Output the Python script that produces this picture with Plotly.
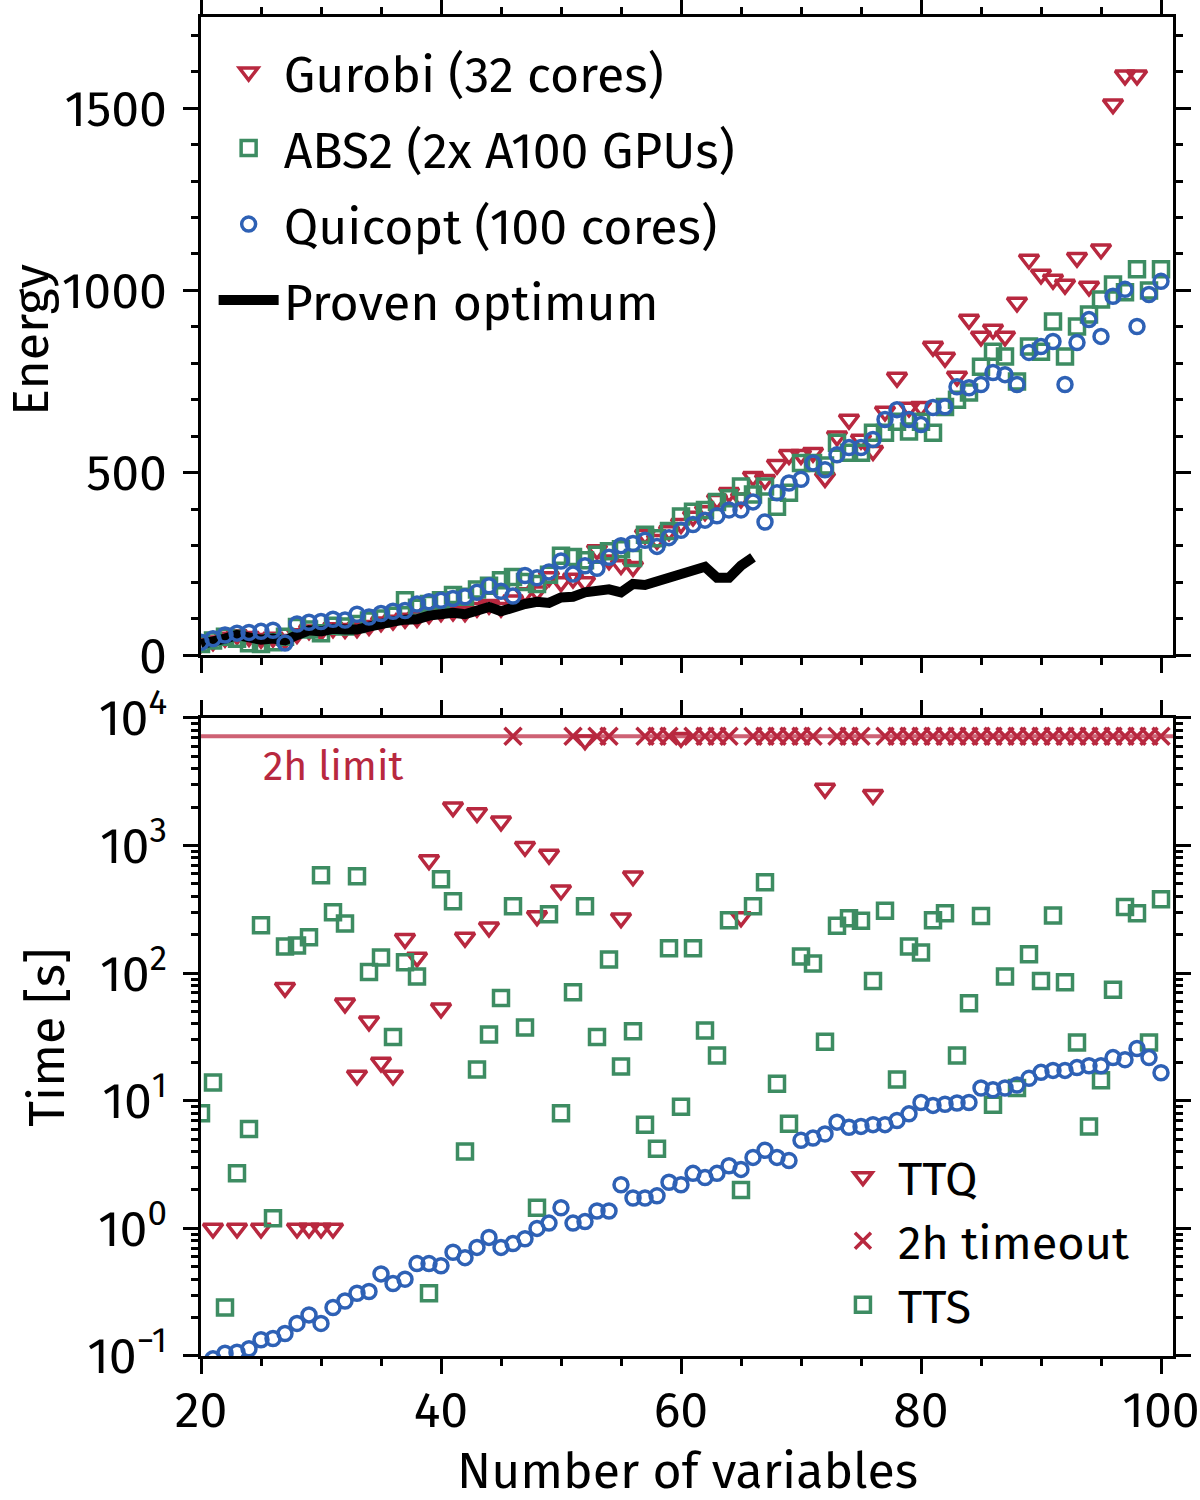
import math
import plotly.graph_objects as go

# ---------------- data ----------------
N = list(range(20, 101))

gurobi_E = [33, 38, 48, 55, 50, 45, 48, 42, 58, 68,
            66, 74, 72, 74, 80, 90, 95, 100, 102, 112,
            118, 120, 118, 130, 138, 130, 150, 170, 175, 214,
            200, 210, 200, 288, 260, 247, 242, 330, 316, 340,
            360, 380, 395, 426, 445, 430, 489, 481, 522, 549,
            549, 555, 486, 600, 646, 591, 560, 668, 761, 679,
            681, 846, 816, 764, 920, 874, 893, 874, 967, 1085,
            1044, 1030, 1016, 1090, 1011, 1113, 1511, 1590, 1590, None,
            None]

abs2_E = [30, 40, 50, 45, 32, 30, 35, 50, 77, 70,
          60, 80, 78, 85, 95, 100, 108, 150, 130, 140,
          150, 165, 160, 180, 190, 205, 214, 200, 195, 220,
          272, 269, 260, 275, 285, 290, 266, 330, 320, 340,
          380, 393, 398, 420, 430, 462, 440, 462, 407, 445,
          527, 527, 520, 582, 555, 555, 610, 610, 640, 613,
          640, 610, 680, 700, 720, 791, 832, 819, 750, 846,
          832, 915, 819, 901, 934, 975, 1016, 995, 1058, 1000,
          1058]

quicopt_E = [35, 45, 55, 60, 62, 65, 68, 33, 85, 90,
             92, 98, 96, 112, 104, 114, 120, 122, 140, 146,
             150, 155, 160, 172, 190, 175, 162, 218, 212, 228,
             258, 222, 245, 238, 268, 300, 306, 315, 298, 322,
             342, 358, 370, 382, 398, 398, 420, 365, 445, 472,
             482, 527, 508, 549, 569, 569, 591, 646, 673, 646,
             632, 679, 681, 736, 733, 742, 775, 769, 742, 830,
             846, 860, 742, 857, 920, 874, 984, 1003, 901, 989,
             1025]

opt_N = list(range(20, 67))
opt_E = [30, 35, 45, 55, 48, 42, 45, 40, 55, 68,
         65, 72, 70, 70, 78, 88, 92, 97, 98, 108,
         115, 116, 112, 122, 132, 120, 132, 140, 146, 143,
         158, 160, 172, 176, 180, 172, 195, 192, 202, 212,
         222, 232, 242, 212, 212, 245, 268]

tts = [8.0, 13.9, 0.24, 2.7, 6.0, 237, 1.2, 162, 165, 191,
       586, 300, 245, 575, 102, 133, 31.6, 122, 94, 0.31,
       545, 366, 4.0, 17.6, 33, 64, 334, 37.6, 1.45, 290,
       8.0, 71, 334, 31.6, 128, 18.6, 35, 6.5, 4.2, 157,
       9.0, 157, 35.5, 22.6, 260, 2.0, 334, 516, 13.6, 6.6,
       135, 119, 29, 235, 269, 257, 87, 309, 14.7, 162,
       145, 260, 295, 22.6, 58, 280, 9.3, 94, 12.6, 141,
       87, 283, 85, 28.6, 6.3, 14.5, 74, 330, 295, 28.6,
       380]

quicopt_t = [0.085, 0.095, 0.105, 0.107, 0.114, 0.134, 0.137, 0.15, 0.18, 0.21,
             0.18, 0.24, 0.27, 0.31, 0.32, 0.44, 0.37, 0.40, 0.53, 0.53,
             0.51, 0.65, 0.59, 0.71, 0.85, 0.71, 0.76, 0.83, 1.0, 1.1,
             1.45, 1.1, 1.13, 1.37, 1.37, 2.2, 1.73, 1.73, 1.8, 2.3,
             2.2, 2.7, 2.5, 2.7, 3.1, 2.9, 3.6, 4.1, 3.6, 3.4,
             4.9, 5.1, 5.5, 6.8, 6.2, 6.3, 6.5, 6.5, 7.0, 7.9,
             9.7, 9.2, 9.4, 9.6, 9.7, 12.6, 12.2, 12.6, 13.3, 15.0,
             16.7, 17.3, 17.3, 18.2, 18.8, 18.8, 21.8, 21.0, 25.7, 21.8,
             16.6]

ttq_N = [21, 23, 25, 27, 28, 29, 30, 31, 32, 33, 34, 35, 36, 37, 38, 39, 40,
         41, 42, 43, 44, 45, 47, 48, 49, 50, 52, 55, 56, 60, 65, 72, 76]
ttq_t = [1, 1, 1, 77, 1, 1, 1, 1, 58, 15.8, 42, 20, 15.8, 186, 133, 770, 53,
         2000, 190, 1800, 229, 1550, 980, 280, 850, 447, 6700, 270, 575, 7000,
         275, 2800, 2500]

timeout_N = [46, 51, 53, 54, 57, 58, 59, 61, 62, 63, 64, 66, 67, 68, 69, 70, 71,
             73, 74, 75] + list(range(77, 101))
LIMIT = 7200

x_ticks = [20, 40, 60, 80, 100]
e_ticks = [0, 500, 1000, 1500]
t_ticks = [0.1, 1, 10, 100, 1000, 10000]
t_ticktext = ["10<sup>\u22121</sup>", "10<sup>0</sup>", "10<sup>1</sup>",
              "10<sup>2</sup>", "10<sup>3</sup>", "10<sup>4</sup>"]
t_minor = [m * 10 ** d for d in range(-1, 4) for m in range(2, 10)]

# ---------------- style ----------------
RED = "#B8283F"
GREEN = "#3D8C62"
BLUE = "#2E61B5"
LIMIT_COLOR = "rgba(190,45,70,0.75)"
FONT = "Fira Sans, Open Sans, sans-serif"
FS = 50
MLW = 3.5

fig = go.Figure()

# ---- top panel ----
fig.add_trace(go.Scatter(
    x=N, y=gurobi_E, mode="markers", name="Gurobi (32 cores)",
    marker=dict(symbol="triangle-down-open", size=17, color=RED, line=dict(width=MLW, color=RED)),
    xaxis="x", yaxis="y", legend="legend", legendrank=1, legendgroup="a"))
fig.add_trace(go.Scatter(
    x=N, y=abs2_E, mode="markers", name="ABS2 (2x A100 GPUs)",
    marker=dict(symbol="square-open", size=15, color=GREEN, line=dict(width=MLW, color=GREEN)),
    xaxis="x", yaxis="y", legend="legend", legendrank=2, legendgroup="b"))
fig.add_trace(go.Scatter(
    x=opt_N, y=opt_E, mode="lines", name="Proven optimum",
    line=dict(color="black", width=10),
    xaxis="x", yaxis="y", legend="legend", legendrank=4, legendgroup="d"))
fig.add_trace(go.Scatter(
    x=N, y=quicopt_E, mode="markers", name="Quicopt (100 cores)",
    marker=dict(symbol="circle-open", size=14, color=BLUE, line=dict(width=MLW, color=BLUE)),
    xaxis="x", yaxis="y", legend="legend", legendrank=3, legendgroup="c"))

# ---- bottom panel ----
fig.add_trace(go.Scatter(
    x=ttq_N, y=ttq_t, mode="markers", name="TTQ",
    marker=dict(symbol="triangle-down-open", size=17, color=RED, line=dict(width=MLW, color=RED)),
    xaxis="x2", yaxis="y2", legend="legend2", legendrank=1))
fig.add_trace(go.Scatter(
    x=timeout_N, y=[LIMIT] * len(timeout_N), mode="markers", name="2h timeout",
    marker=dict(symbol="x-thin-open", size=17, color=RED, line=dict(width=MLW, color=RED)),
    xaxis="x2", yaxis="y2", legend="legend2", legendrank=2))
fig.add_trace(go.Scatter(
    x=N, y=tts, mode="markers", name="TTS",
    marker=dict(symbol="square-open", size=15, color=GREEN, line=dict(width=MLW, color=GREEN)),
    xaxis="x2", yaxis="y2", legend="legend2", legendrank=3))
fig.add_trace(go.Scatter(
    x=N, y=quicopt_t, mode="markers", name="Quicopt time", showlegend=False,
    marker=dict(symbol="circle-open", size=14, color=BLUE, line=dict(width=MLW, color=BLUE)),
    xaxis="x2", yaxis="y2"))

TOP_DOM = [0.5235, 1.0]
BOT_DOM = [0.0, 0.4765]
tickfont = dict(family=FONT, size=FS, color="black")


def axis(direction, main=True, **kw):
    d = dict(
        showline=main, linewidth=3, linecolor="black", mirror="allticks",
        ticks=direction, ticklen=15, tickwidth=3, tickcolor="black",
        showgrid=False, zeroline=False, tickfont=tickfont, automargin=False,
    )
    d.update(kw)
    return d


XR = [20, 101]
mt = dict(ticklen=7, tickwidth=2.5, tickcolor="black")
xminor_out = dict(ticks="outside", dtick=5, tick0=0, **mt)
xminor_in = dict(ticks="inside", dtick=5, tick0=0, **mt)
yminor_out = dict(ticks="outside", dtick=100, tick0=0, **mt)
yminor_in = dict(ticks="inside", dtick=100, tick0=0, **mt)
lminor_out = dict(ticks="outside", tickmode="array", tickvals=t_minor, **mt)
lminor_in = dict(ticks="inside", tickmode="array", tickvals=t_minor, **mt)

fig.update_layout(
    width=1200, height=1500,
    margin=dict(l=201, r=27, t=17, b=144, autoexpand=False),
    paper_bgcolor="white", plot_bgcolor="white",
    font=dict(family=FONT, size=FS, color="black"),
    xaxis=axis("outside", anchor="y", domain=[0, 1], range=XR, tickmode="array",
               tickvals=x_ticks, showticklabels=False, minor=xminor_out),
    xaxis3=axis("inside", main=False, anchor="y", overlaying="x", range=XR, tickmode="array",
                tickvals=x_ticks, showticklabels=False, minor=xminor_in),
    yaxis=axis("outside", anchor="x", domain=TOP_DOM, range=[0, 1750], tickmode="array",
               tickvals=e_ticks, minor=yminor_out, ticklabelstandoff=6),
    yaxis3=axis("inside", main=False, anchor="x", overlaying="y", range=[0, 1750], tickmode="array",
                tickvals=e_ticks, showticklabels=False, minor=yminor_in),
    xaxis2=axis("outside", anchor="y2", domain=[0, 1], range=XR, tickmode="array",
                tickvals=x_ticks, minor=xminor_out, ticklabelstandoff=-7),
    xaxis4=axis("inside", main=False, anchor="y2", overlaying="x2", range=XR, tickmode="array",
                tickvals=x_ticks, showticklabels=False, minor=xminor_in),
    yaxis2=axis("outside", anchor="x2", domain=BOT_DOM, type="log", range=[-1, 4], tickmode="array",
                tickvals=t_ticks, ticktext=t_ticktext, minor=lminor_out, ticklabelstandoff=6),
    yaxis4=axis("inside", main=False, anchor="x2", overlaying="y2", type="log", range=[-1, 4],
                tickmode="array", tickvals=t_ticks, showticklabels=False, minor=lminor_in),
    legend=dict(x=0.013, y=0.988, xanchor="left", yanchor="top", bgcolor="rgba(0,0,0,0)",
                font=dict(family=FONT, size=FS, color="black"), traceorder="grouped",
                tracegroupgap=8, itemsizing="trace", itemwidth=60),
    legend2=dict(x=0.645, y=0.01, xanchor="left", yanchor="bottom", bgcolor="rgba(0,0,0,0)",
                 font=dict(family=FONT, size=47, color="black"), tracegroupgap=0, itemwidth=60),
    showlegend=True,
)

# 2h limit line and label
fig.add_shape(type="line", xref="x2 domain", x0=0, x1=1, yref="y2",
              y0=LIMIT, y1=LIMIT,
              line=dict(color=LIMIT_COLOR, width=4), layer="below")
fig.add_annotation(x=25, y=math.log10(LIMIT), xref="x2", yref="y2", text="2h limit",
                   showarrow=False, xanchor="left", yanchor="top", yshift=-4,
                   font=dict(family=FONT, size=41, color=RED))

# axis titles
fig.add_annotation(x=-0.175, y=0.7588, xref="paper", yref="paper", text="Energy",
                   textangle=-90, showarrow=False, xanchor="center", yanchor="middle",
                   font=dict(family=FONT, size=FS, color="black"))
fig.add_annotation(x=-0.158, y=0.238, xref="paper", yref="paper", text="Time [s]",
                   textangle=-90, showarrow=False, xanchor="center", yanchor="middle",
                   font=dict(family=FONT, size=FS, color="black"))
fig.add_annotation(x=0.501, y=-0.086, xref="paper", yref="paper", text="Number of variables",
                   showarrow=False, xanchor="center", yanchor="middle",
                   font=dict(family=FONT, size=FS, color="black"))

fig.write_html("out.html")
